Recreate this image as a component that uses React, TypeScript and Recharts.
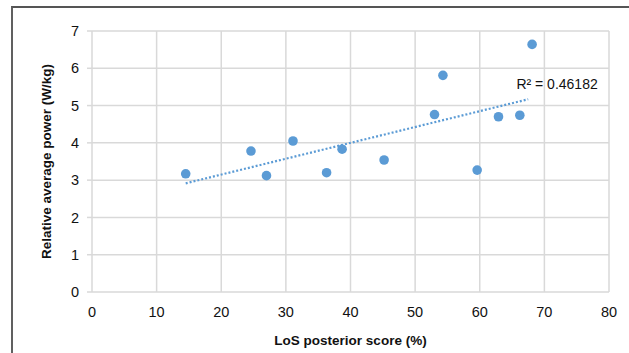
import { ScatterChart, Scatter, XAxis, YAxis, CartesianGrid, ReferenceLine, Label } from 'recharts';

// LoS posterior score (%) vs relative average power (W/kg)
const losScores = [14.5, 24.6, 27.0, 31.1, 36.3, 38.7, 45.2, 53.0, 54.3, 59.6, 62.9, 66.2, 68.1];
const avgPower = [3.17, 3.78, 3.12, 4.05, 3.2, 3.83, 3.54, 4.76, 5.81, 3.27, 4.7, 4.74, 6.64];
const xTicks = [0, 10, 20, 30, 40, 50, 60, 70, 80];
const yTicks = [0, 1, 2, 3, 4, 5, 6, 7];
const r2Label = 'R² = 0.46182';

const points = losScores.map((x, i) => ({ x, y: avgPower[i] }));

// linear trend line (least squares) across the data range
const n = points.length;
const mx = losScores.reduce((a, b) => a + b, 0) / n;
const my = avgPower.reduce((a, b) => a + b, 0) / n;
let sxy = 0;
let sxx = 0;
points.forEach(({ x, y }) => {
    sxy += (x - mx) * (y - my);
    sxx += (x - mx) * (x - mx);
});
const slope = sxy / sxx;
const intercept = my - slope * mx;
const xMin = Math.min(...losScores);
const xMax = Math.max(...losScores) - 0.6;

const BLUE = '#5b9bd5';
const GRID = '#d9d9d9';
const FONT = '"Liberation Sans", Arial, sans-serif';

export default function App() {
    return (
        <div style={{ position: 'absolute', left: 0, top: 0, width: 629, height: 353, background: '#fff', fontFamily: FONT }}>
            <div style={{ position: 'absolute', left: 11, top: 6, width: 700, height: 400, borderLeft: '2px solid #606060', borderTop: '2px solid #555' }} />
            <ScatterChart width={629} height={353} margin={{ top: 31, right: 20, bottom: 0, left: 0 }} style={{ position: 'absolute', left: 0, top: 0 }}>
                <CartesianGrid stroke={GRID} strokeWidth={1.5} />
                <XAxis
                    type="number"
                    dataKey="x"
                    domain={[0, 80]}
                    ticks={xTicks}
                    height={61}
                    axisLine={false}
                    tickLine={false}
                    tickSize={0}
                    tickMargin={15}
                    tick={{ fontSize: 14.5, fill: '#111', fontFamily: FONT }}
                >
                    <Label value="LoS posterior score (%)" position="insideBottom" offset={8} style={{ fontSize: 13.5, fontWeight: 700, fill: '#111', fontFamily: FONT }} />
                </XAxis>
                <YAxis
                    type="number"
                    dataKey="y"
                    domain={[0, 7]}
                    ticks={yTicks}
                    width={92}
                    axisLine={false}
                    tickLine={{ stroke: GRID, strokeWidth: 1.5 }}
                    tickSize={5}
                    tickMargin={8}
                    tick={{ fontSize: 14.5, fill: '#111', fontFamily: FONT }}
                >
                    <Label value="Relative average power (W/kg)" position="center" angle={-90} style={{ fontSize: 13.5, fontWeight: 700, fill: '#111', fontFamily: FONT }} />
                </YAxis>
                <ReferenceLine
                    segment={[
                        { x: xMin, y: slope * xMin + intercept },
                        { x: xMax, y: slope * xMax + intercept },
                    ]}
                    stroke={BLUE}
                    strokeWidth={2.2}
                    strokeDasharray="2 2"
                    ifOverflow="visible"
                />
                <Scatter data={points} fill={BLUE} isAnimationActive={false} shape={(props: any) => <circle cx={props.cx} cy={props.cy} r={4.8} fill={BLUE} />} />
                <ReferenceLine
                    x={70}
                    stroke="none"
                    label={{ value: r2Label, position: 'insideTopLeft', dx: -33, dy: 43, style: { fontSize: 14, fill: '#111', fontFamily: FONT } }}
                />
            </ScatterChart>
        </div>
    );
}
